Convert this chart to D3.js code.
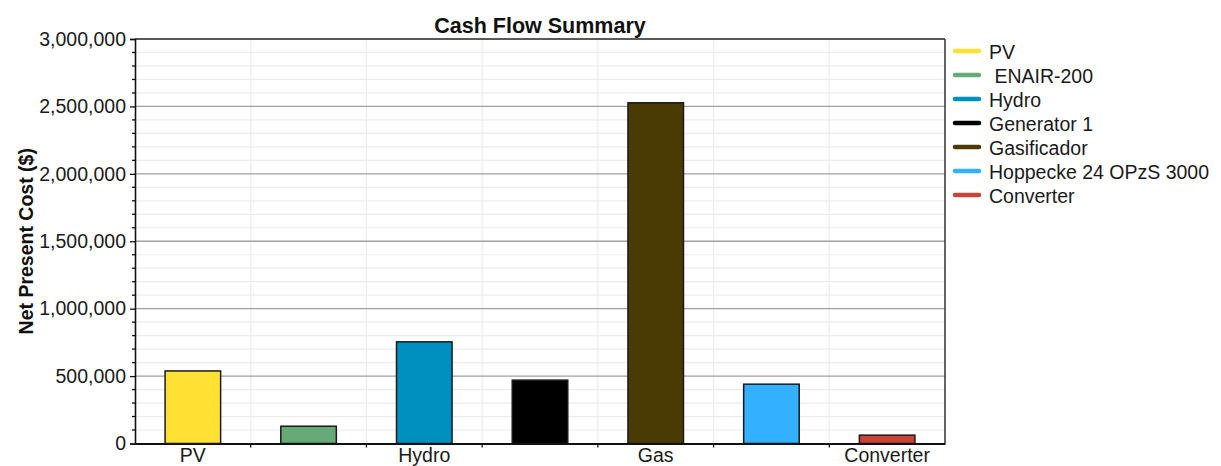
<!DOCTYPE html>
<html>
<head>
<meta charset="utf-8">
<script src="https://cdn.jsdelivr.net/npm/d3@7"></script>
<style>
  html, body { margin: 0; padding: 0; background: #fff; }
  svg { display: block; font-family: "Liberation Sans", Arial, sans-serif; }
</style>
</head>
<body>
<svg id="chart" width="1221" height="466"></svg>
<script>
// Net present cost per component
const categories = ["PV", " ENAIR-200", "Hydro", "Generator 1", "Gasificador", "Hoppecke 24 OPzS 3000", "Converter"];
const axisLabels = ["PV", "", "Hydro", "", "Gas", "", "Converter"];
const values = [538000, 128000, 754000, 470000, 2527000, 440000, 62000];
const colors = ["#FFE033", "#66AA77", "#0090BF", "#000000", "#4A3A04", "#33B0FF", "#C8443A"];
const yTicks = [0, 500000, 1000000, 1500000, 2000000, 2500000, 3000000];

const svg = d3.select("#chart");
const margin = { left: 135, top: 39, right: 945, bottom: 443.5 };
const fontSize = 19.5;

const x = d3.scaleBand()
  .domain(d3.range(categories.length))
  .range([margin.left, margin.right])
  .paddingInner(0).paddingOuter(0);

const y = d3.scaleLinear()
  .domain([0, 3000000])
  .range([margin.bottom, margin.top]);

const minorTicks = d3.range(0, 3000001, 100000);
const fmt = d3.format(",");

// minor horizontal grid
svg.append("g").selectAll("line")
  .data(minorTicks.filter(d => d % 500000 !== 0))
  .join("line")
  .attr("x1", margin.left).attr("x2", margin.right)
  .attr("y1", d => y(d)).attr("y2", d => y(d))
  .attr("stroke", "#ececec").attr("stroke-width", 1.2);

// vertical grid at category boundaries
svg.append("g").selectAll("line")
  .data(d3.range(1, categories.length))
  .join("line")
  .attr("x1", i => x(i)).attr("x2", i => x(i))
  .attr("y1", margin.top).attr("y2", margin.bottom)
  .attr("stroke", "#ececec").attr("stroke-width", 1.2);

// major horizontal grid
svg.append("g").selectAll("line")
  .data(yTicks.filter(d => d > 0 && d < 3000000))
  .join("line")
  .attr("x1", margin.left).attr("x2", margin.right)
  .attr("y1", d => y(d)).attr("y2", d => y(d))
  .attr("stroke", "#a0a0a0").attr("stroke-width", 1.3);

// bars
const barW = x.bandwidth() * 0.48;
svg.append("g").selectAll("rect")
  .data(values)
  .join("rect")
  .attr("x", (d, i) => x(i) + (x.bandwidth() - barW) / 2)
  .attr("width", barW)
  .attr("y", d => y(d))
  .attr("height", d => y(0) - y(d))
  .attr("fill", (d, i) => colors[i])
  .attr("stroke", "#1a1a1a").attr("stroke-width", 1.5);

// plot frame: top and right
svg.append("line")
  .attr("x1", margin.left).attr("x2", margin.right)
  .attr("y1", margin.top).attr("y2", margin.top)
  .attr("stroke", "#222").attr("stroke-width", 1.5);
svg.append("line")
  .attr("x1", margin.right).attr("x2", margin.right)
  .attr("y1", margin.top).attr("y2", margin.bottom)
  .attr("stroke", "#333").attr("stroke-width", 1.5);

// y axis
const yAxis = svg.append("g")
  .attr("transform", `translate(${margin.left},0)`)
  .call(d3.axisLeft(y).tickValues(yTicks).tickFormat(fmt).tickSize(5).tickPadding(4));
yAxis.select(".domain").attr("stroke", "#111").attr("stroke-width", 1.6);
yAxis.selectAll(".tick line").attr("stroke", "#111").attr("stroke-width", 1.3);
yAxis.selectAll(".tick text").attr("font-size", fontSize).attr("fill", "#1a1a1a")
  .attr("font-family", "Liberation Sans, Arial, sans-serif");

svg.append("g").selectAll("line")
  .data(minorTicks.filter(d => d % 500000 !== 0))
  .join("line")
  .attr("x1", margin.left - 3).attr("x2", margin.left)
  .attr("y1", d => y(d)).attr("y2", d => y(d))
  .attr("stroke", "#111").attr("stroke-width", 1.3);

// x axis
const xAxis = svg.append("g")
  .attr("transform", `translate(0,${margin.bottom})`)
  .call(d3.axisBottom(x).tickFormat(i => axisLabels[i]).tickSize(0).tickPadding(5));
xAxis.select(".domain").attr("stroke", "#111").attr("stroke-width", 2);
xAxis.selectAll(".tick text").attr("font-size", fontSize).attr("fill", "#1a1a1a")
  .attr("font-family", "Liberation Sans, Arial, sans-serif");

svg.append("g").selectAll("line")
  .data(d3.range(1, categories.length))
  .join("line")
  .attr("x1", i => x(i)).attr("x2", i => x(i))
  .attr("y1", margin.bottom).attr("y2", margin.bottom + 4)
  .attr("stroke", "#111").attr("stroke-width", 1.3);

// title
svg.append("text")
  .attr("x", (margin.left + margin.right) / 2)
  .attr("y", 33)
  .attr("text-anchor", "middle")
  .attr("font-size", 21.5).attr("font-weight", "bold").attr("fill", "#111")
  .text("Cash Flow Summary");

// y axis title
svg.append("text")
  .attr("transform", `translate(33,${(margin.top + margin.bottom) / 2}) rotate(-90)`)
  .attr("text-anchor", "middle")
  .attr("font-size", fontSize).attr("font-weight", "bold").attr("fill", "#111")
  .text("Net Present Cost ($)");

// legend
const legend = svg.append("g").attr("transform", "translate(955,51)");
const rows = legend.selectAll("g")
  .data(categories)
  .join("g")
  .attr("transform", (d, i) => `translate(0,${i * 24})`);
rows.append("line")
  .attr("x1", 0).attr("x2", 24).attr("y1", 0).attr("y2", 0)
  .attr("stroke", (d, i) => colors[i])
  .attr("stroke-width", 4.5).attr("stroke-linecap", "round");
rows.append("text")
  .attr("x", 34).attr("y", 7.5)
  .attr("font-size", fontSize).attr("fill", "#1a1a1a")
  .attr("xml:space", "preserve")
  .style("white-space", "pre")
  .text(d => d);
</script>
</body>
</html>
